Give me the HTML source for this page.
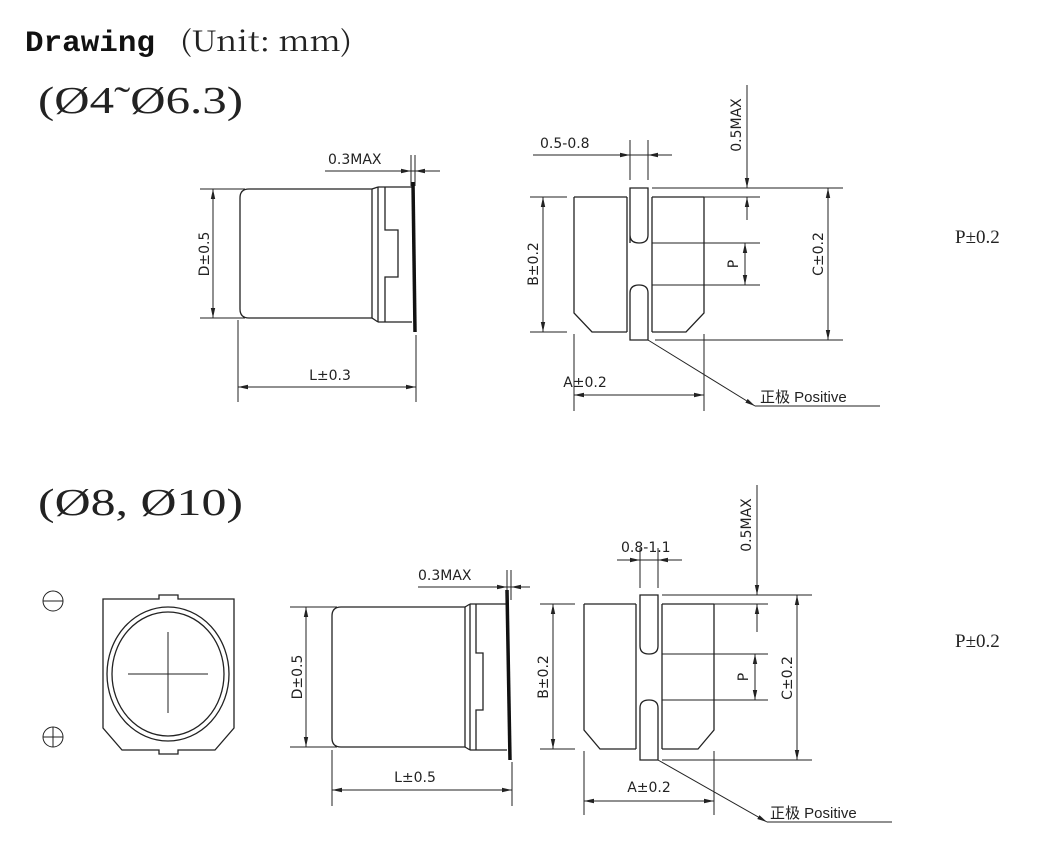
<!DOCTYPE html>
<html><head><meta charset="utf-8"><style>
html,body{margin:0;padding:0;background:#fff;width:1042px;height:844px;overflow:hidden}
svg{display:block}
.l{stroke:#222;stroke-width:1.3;fill:none}
.t{stroke:#222;stroke-width:1;fill:none}
.k{stroke:#111;stroke-width:3.5;fill:none}
.d{font-family:"DejaVu Sans","Liberation Sans",sans-serif;font-size:14px;fill:#222}
</style></head><body>
<svg width="1042" height="844" viewBox="0 0 1042 844" xmlns="http://www.w3.org/2000/svg">
<defs>
<marker id="a" markerWidth="10" markerHeight="6" refX="10" refY="3" orient="auto-start-reverse" markerUnits="userSpaceOnUse"><path d="M0,0.8 L10,3 L0,5.2Z" fill="#222"/></marker>
</defs>

<text x="25" y="51" font-family="Liberation Mono,monospace" font-weight="bold" font-size="30" textLength="130" lengthAdjust="spacingAndGlyphs" fill="#111">Drawing</text>
<text x="180" y="51" font-family="Noto Serif CJK SC,Liberation Serif,serif" font-size="28" textLength="172" lengthAdjust="spacingAndGlyphs" fill="#222">(Unit: mm)</text>
<text x="38" y="113" font-family="Liberation Serif,serif" font-size="38" textLength="205" lengthAdjust="spacingAndGlyphs" fill="#222">(Ø4˜Ø6.3)</text>
<text x="38" y="515" font-family="Liberation Serif,serif" font-size="38" textLength="205" lengthAdjust="spacingAndGlyphs" fill="#222">(Ø8, Ø10)</text>

<text x="955" y="243" font-family="Liberation Serif,serif" font-size="19" fill="#222">P±0.2</text>
<text x="955" y="647" font-family="Liberation Serif,serif" font-size="19" fill="#222">P±0.2</text>

<!-- ===== Top side view ===== -->
<path class="l" d="M372,189 H249 Q240,189 240,198 V309 Q240,318 249,318 H372 Z"/>
<path class="l" d="M378,187 V322 M372,189 L378,187 M372,318 L378,322"/>
<path class="l" d="M378,187 H412 M378,322 H412 M385,187 V230 H398 V277 H385 V322"/>
<line class="k" x1="413" y1="182" x2="415" y2="332"/>
<line class="t" x1="200" y1="189" x2="245" y2="189"/>
<line class="t" x1="200" y1="318" x2="245" y2="318"/>
<line class="t" x1="213" y1="189" x2="213" y2="318" marker-start="url(#a)" marker-end="url(#a)"/>
<text class="d" transform="translate(209,254) rotate(-90)" text-anchor="middle">D±0.5</text>
<line class="t" x1="238" y1="320" x2="238" y2="402"/>
<line class="t" x1="416" y1="335" x2="416" y2="402"/>
<line class="t" x1="238" y1="387" x2="416" y2="387" marker-start="url(#a)" marker-end="url(#a)"/>
<text class="d" x="330" y="380" text-anchor="middle">L±0.3</text>
<line class="t" x1="325" y1="171" x2="440" y2="171"/>
<line class="t" x1="400" y1="171" x2="411" y2="171" marker-end="url(#a)"/>
<line class="t" x1="427" y1="171" x2="415" y2="171" marker-end="url(#a)"/>
<line class="t" x1="411" y1="155" x2="411" y2="186"/>
<line class="t" x1="415" y1="155" x2="415" y2="186"/>
<text class="d" x="328" y="164">0.3MAX</text>

<!-- ===== Top front view ===== -->
<path class="l" d="M574,197 V313 L592,332 H627 M652,332 H686 L704,313 V197 M574,197 H627 M652,197 H704"/>
<path class="l" d="M627,197 V332 M652,197 V332"/>
<path class="l" d="M630,243 Q630,243 630,235 V188 H648 V235 Q648,243 639,243 Q630,243 630,235"/>
<path class="l" d="M630,293 Q630,285 639,285 Q648,285 648,293 V340 H630 Z"/>
<line class="t" x1="652" y1="243" x2="760" y2="243"/>
<line class="t" x1="652" y1="285" x2="760" y2="285"/>
<line class="t" x1="745" y1="243" x2="745" y2="285" marker-start="url(#a)" marker-end="url(#a)"/>
<text class="d" transform="translate(738,264) rotate(-90)" text-anchor="middle">P</text>
<line class="t" x1="652" y1="188" x2="843" y2="188"/>
<line class="t" x1="655" y1="340" x2="843" y2="340"/>
<line class="t" x1="828" y1="188" x2="828" y2="340" marker-start="url(#a)" marker-end="url(#a)"/>
<text class="d" transform="translate(823,254) rotate(-90)" text-anchor="middle">C±0.2</text>
<line class="t" x1="747" y1="85" x2="747" y2="188" marker-end="url(#a)"/>
<line class="t" x1="747" y1="220" x2="747" y2="197" marker-end="url(#a)"/>
<line class="t" x1="652" y1="197" x2="760" y2="197"/>
<text class="d" transform="translate(741,125) rotate(-90)" text-anchor="middle">0.5MAX</text>
<line class="t" x1="533" y1="155" x2="672" y2="155"/>
<line class="t" x1="615" y1="155" x2="630" y2="155" marker-end="url(#a)"/>
<line class="t" x1="662" y1="155" x2="648" y2="155" marker-end="url(#a)"/>
<line class="t" x1="630" y1="140" x2="630" y2="180"/>
<line class="t" x1="648" y1="140" x2="648" y2="180"/>
<text class="d" x="540" y="148">0.5-0.8</text>
<line class="t" x1="530" y1="197" x2="567" y2="197"/>
<line class="t" x1="530" y1="332" x2="567" y2="332"/>
<line class="t" x1="543" y1="197" x2="543" y2="332" marker-start="url(#a)" marker-end="url(#a)"/>
<text class="d" transform="translate(538,264) rotate(-90)" text-anchor="middle">B±0.2</text>
<line class="t" x1="574" y1="334" x2="574" y2="411"/>
<line class="t" x1="704" y1="334" x2="704" y2="411"/>
<line class="t" x1="574" y1="395" x2="704" y2="395" marker-start="url(#a)" marker-end="url(#a)"/>
<text class="d" x="585" y="387" text-anchor="middle">A±0.2</text>
<path class="t" d="M755,406 L648,340 M755,406 H880" marker-start="url(#a)"/>
<text x="760" y="402" font-family="Liberation Sans,Noto Sans CJK SC,sans-serif" font-size="15" fill="#222">正极 Positive</text>

<!-- ===== Bottom view ===== -->
<circle class="t" cx="53" cy="601" r="10"/><line class="t" x1="43" y1="601" x2="63" y2="601"/>
<circle class="t" cx="53" cy="737" r="10"/><line class="t" x1="43" y1="737" x2="63" y2="737"/><line class="t" x1="53" y1="727" x2="53" y2="747"/>
<path class="l" d="M103,599 H159 V595 H178 V599 H234 V728 L215,750 H178 V754 H159 V750 H122 L103,728 Z"/>
<ellipse class="l" cx="168" cy="674" rx="61" ry="67"/>
<ellipse class="l" cx="168" cy="674" rx="56" ry="62"/>
<line class="t" x1="128" y1="674" x2="208" y2="674"/>
<line class="t" x1="168" y1="632" x2="168" y2="713"/>

<!-- ===== Bottom side view ===== -->
<path class="l" d="M465,607 H341 Q332,607 332,616 V738 Q332,747 341,747 H465 Z"/>
<path class="l" d="M470,604 V750 M465,607 L470,604 M465,747 L470,750"/>
<path class="l" d="M470,604 H507 M470,750 H507 M476,604 V653 H483 V710 H476 V750"/>
<line class="k" x1="507" y1="590" x2="510" y2="760"/>
<line class="t" x1="290" y1="607" x2="337" y2="607"/>
<line class="t" x1="290" y1="747" x2="337" y2="747"/>
<line class="t" x1="306" y1="607" x2="306" y2="747" marker-start="url(#a)" marker-end="url(#a)"/>
<text class="d" transform="translate(302,677) rotate(-90)" text-anchor="middle" font-size="15">D±0.5</text>
<line class="t" x1="332" y1="750" x2="332" y2="806"/>
<line class="t" x1="512" y1="762" x2="512" y2="806"/>
<line class="t" x1="332" y1="790" x2="512" y2="790" marker-start="url(#a)" marker-end="url(#a)"/>
<text class="d" x="415" y="782" text-anchor="middle" font-size="15">L±0.5</text>
<line class="t" x1="418" y1="587" x2="530" y2="587"/>
<line class="t" x1="495" y1="587" x2="507" y2="587" marker-end="url(#a)"/>
<line class="t" x1="522" y1="587" x2="511" y2="587" marker-end="url(#a)"/>
<line class="t" x1="507" y1="570" x2="507" y2="600"/>
<line class="t" x1="511" y1="570" x2="511" y2="600"/>
<text class="d" x="418" y="580">0.3MAX</text>

<!-- ===== Bottom front view ===== -->
<path class="l" d="M584,604 V730 L600,749 H636 M662,749 H698 L714,730 V604 M584,604 H636 M662,604 H714"/>
<path class="l" d="M636,604 V749 M662,604 V749"/>
<path class="l" d="M640,646 V595 H658 V646 Q658,654 649,654 Q640,654 640,646"/>
<path class="l" d="M640,708 Q640,700 649,700 Q658,700 658,708 V760 H640 Z"/>
<line class="t" x1="662" y1="654" x2="768" y2="654"/>
<line class="t" x1="662" y1="700" x2="768" y2="700"/>
<line class="t" x1="755" y1="654" x2="755" y2="700" marker-start="url(#a)" marker-end="url(#a)"/>
<text class="d" transform="translate(748,677) rotate(-90)" text-anchor="middle">P</text>
<line class="t" x1="662" y1="595" x2="812" y2="595"/>
<line class="t" x1="662" y1="760" x2="812" y2="760"/>
<line class="t" x1="797" y1="595" x2="797" y2="760" marker-start="url(#a)" marker-end="url(#a)"/>
<text class="d" transform="translate(792,678) rotate(-90)" text-anchor="middle" font-size="15">C±0.2</text>
<line class="t" x1="757" y1="485" x2="757" y2="595" marker-end="url(#a)"/>
<line class="t" x1="757" y1="632" x2="757" y2="604" marker-end="url(#a)"/>
<line class="t" x1="662" y1="604" x2="768" y2="604"/>
<text class="d" transform="translate(751,525) rotate(-90)" text-anchor="middle" font-size="15">0.5MAX</text>
<line class="t" x1="617" y1="560" x2="682" y2="560"/>
<line class="t" x1="628" y1="560" x2="640" y2="560" marker-end="url(#a)"/>
<line class="t" x1="670" y1="560" x2="658" y2="560" marker-end="url(#a)"/>
<line class="t" x1="640" y1="548" x2="640" y2="588"/>
<line class="t" x1="658" y1="548" x2="658" y2="588"/>
<text class="d" x="621" y="552">0.8-1.1</text>
<line class="t" x1="540" y1="604" x2="575" y2="604"/>
<line class="t" x1="540" y1="749" x2="575" y2="749"/>
<line class="t" x1="553" y1="604" x2="553" y2="749" marker-start="url(#a)" marker-end="url(#a)"/>
<text class="d" transform="translate(548,677) rotate(-90)" text-anchor="middle" font-size="15">B±0.2</text>
<line class="t" x1="584" y1="751" x2="584" y2="815"/>
<line class="t" x1="714" y1="751" x2="714" y2="815"/>
<line class="t" x1="584" y1="801" x2="714" y2="801" marker-start="url(#a)" marker-end="url(#a)"/>
<text class="d" x="649" y="792" text-anchor="middle" font-size="15">A±0.2</text>
<path class="t" d="M767,822 L658,760 M767,822 H892" marker-start="url(#a)"/>
<text x="770" y="818" font-family="Liberation Sans,Noto Sans CJK SC,sans-serif" font-size="15" fill="#222">正极 Positive</text>
</svg>
</body></html>
